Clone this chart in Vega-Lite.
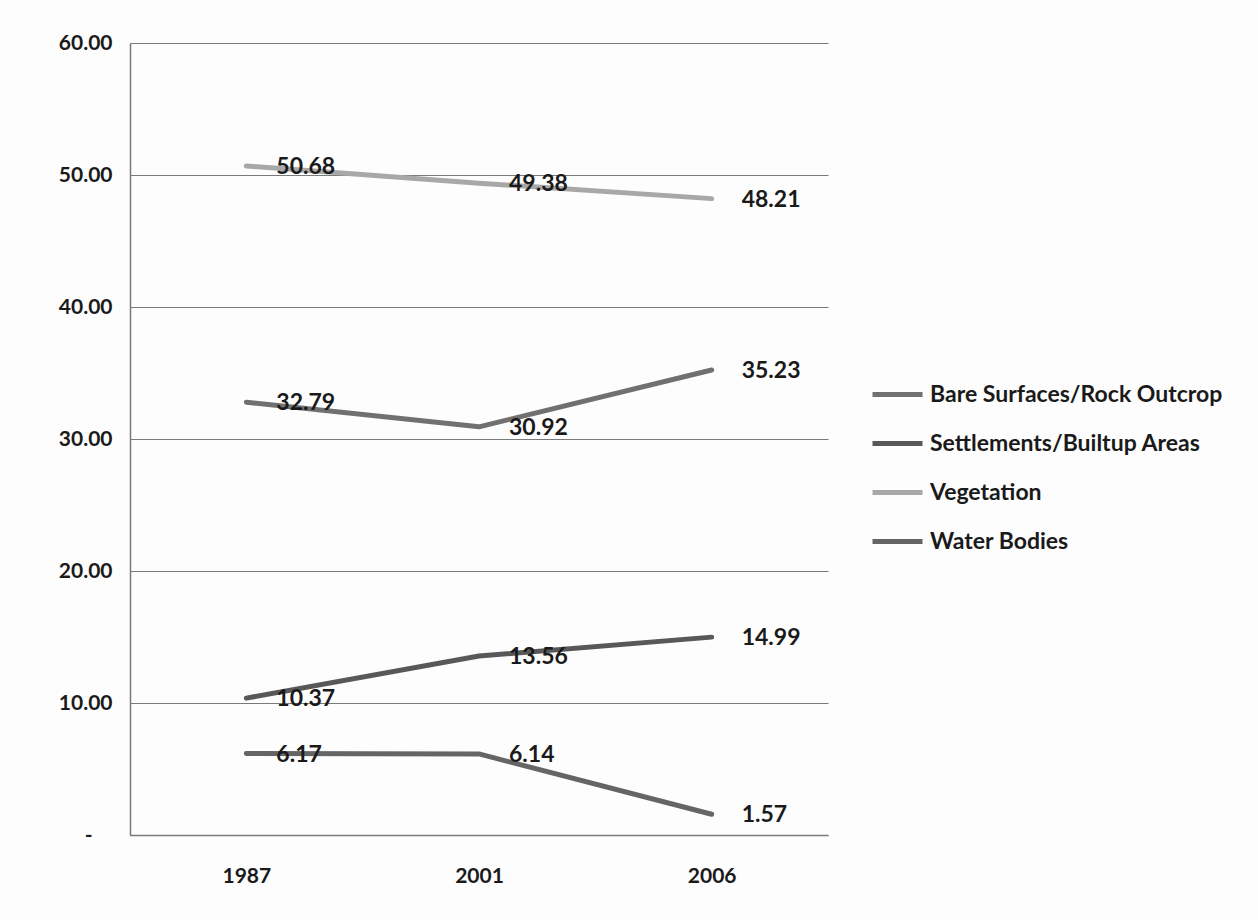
{
  "$schema": "https://vega.github.io/schema/vega-lite/v6.json",
  "width": 698,
  "height": 792,
  "autosize": "none",
  "padding": {"left": 130, "top": 43, "right": 430, "bottom": 85},
  "background": "#fdfdfd",
  "config": {
    "view": {"stroke": null},
    "font": "Lato"
  },
  "data": {
    "values": [
      {"year": "1987", "class": "Bare Surfaces/Rock Outcrop", "value": 32.79},
      {"year": "2001", "class": "Bare Surfaces/Rock Outcrop", "value": 30.92},
      {"year": "2006", "class": "Bare Surfaces/Rock Outcrop", "value": 35.23},
      {"year": "1987", "class": "Settlements/Builtup Areas", "value": 10.37},
      {"year": "2001", "class": "Settlements/Builtup Areas", "value": 13.56},
      {"year": "2006", "class": "Settlements/Builtup Areas", "value": 14.99},
      {"year": "1987", "class": "Vegetation", "value": 50.68},
      {"year": "2001", "class": "Vegetation", "value": 49.38},
      {"year": "2006", "class": "Vegetation", "value": 48.21},
      {"year": "1987", "class": "Water Bodies", "value": 6.17},
      {"year": "2001", "class": "Water Bodies", "value": 6.14},
      {"year": "2006", "class": "Water Bodies", "value": 1.57}
    ]
  },
  "encoding": {
    "x": {
      "field": "year", "type": "ordinal",
      "scale": {"type": "point", "padding": 0.5},
      "axis": {
        "title": null, "labelAngle": 0, "ticks": false,
        "domainColor": "#7a7a7a", "domainWidth": 1.5,
        "labelFont": "Lato", "labelFontWeight": "bold", "labelFontSize": 21,
        "labelColor": "#1a1a1a", "labelPadding": 30, "grid": false
      }
    },
    "y": {
      "field": "value", "type": "quantitative",
      "scale": {"domain": [0, 60], "nice": false},
      "axis": {
        "title": null, "values": [0, 10, 20, 30, 40, 50, 60],
        "labelExpr": "datum.value == 0 ? '-' : format(datum.value, '.2f')",
        "ticks": false, "domainColor": "#7a7a7a", "domainWidth": 1.5,
        "gridColor": "#7a7a7a", "gridWidth": 1.2, "gridOpacity": 1,
        "labelFont": "Lato", "labelFontWeight": "bold", "labelFontSize": 21,
        "labelColor": "#1a1a1a",
        "labelPadding": {"condition": {"test": "datum.value == 0", "value": 38}, "value": 18}
      }
    },
    "color": {
      "field": "class", "type": "nominal",
      "scale": {
        "domain": ["Bare Surfaces/Rock Outcrop", "Settlements/Builtup Areas", "Vegetation", "Water Bodies"],
        "range": ["#707070", "#585858", "#a8a8a8", "#656565"]
      },
      "legend": {
        "title": null, "orient": "none", "legendX": 740, "legendY": 324,
        "symbolType": "stroke", "symbolSize": 2500, "symbolStrokeWidth": 5,
        "labelFont": "Lato", "labelFontWeight": "bold", "labelFontSize": 23,
        "labelColor": "#1a1a1a", "labelOffset": 5, "rowPadding": 9,
        "labelLimit": 400
      }
    }
  },
  "layer": [
    {
      "mark": {"type": "line", "strokeWidth": 5, "strokeCap": "round", "strokeJoin": "round"}
    },
    {
      "mark": {"type": "text", "align": "left", "baseline": "middle", "dx": 30, "dy": 1,
               "font": "Lato", "fontWeight": "bold", "fontSize": 23, "color": "#1a1a1a"},
      "encoding": {
        "text": {"field": "value", "type": "quantitative", "format": ".2f"},
        "color": {"value": "#1a1a1a"}
      }
    }
  ]
}
